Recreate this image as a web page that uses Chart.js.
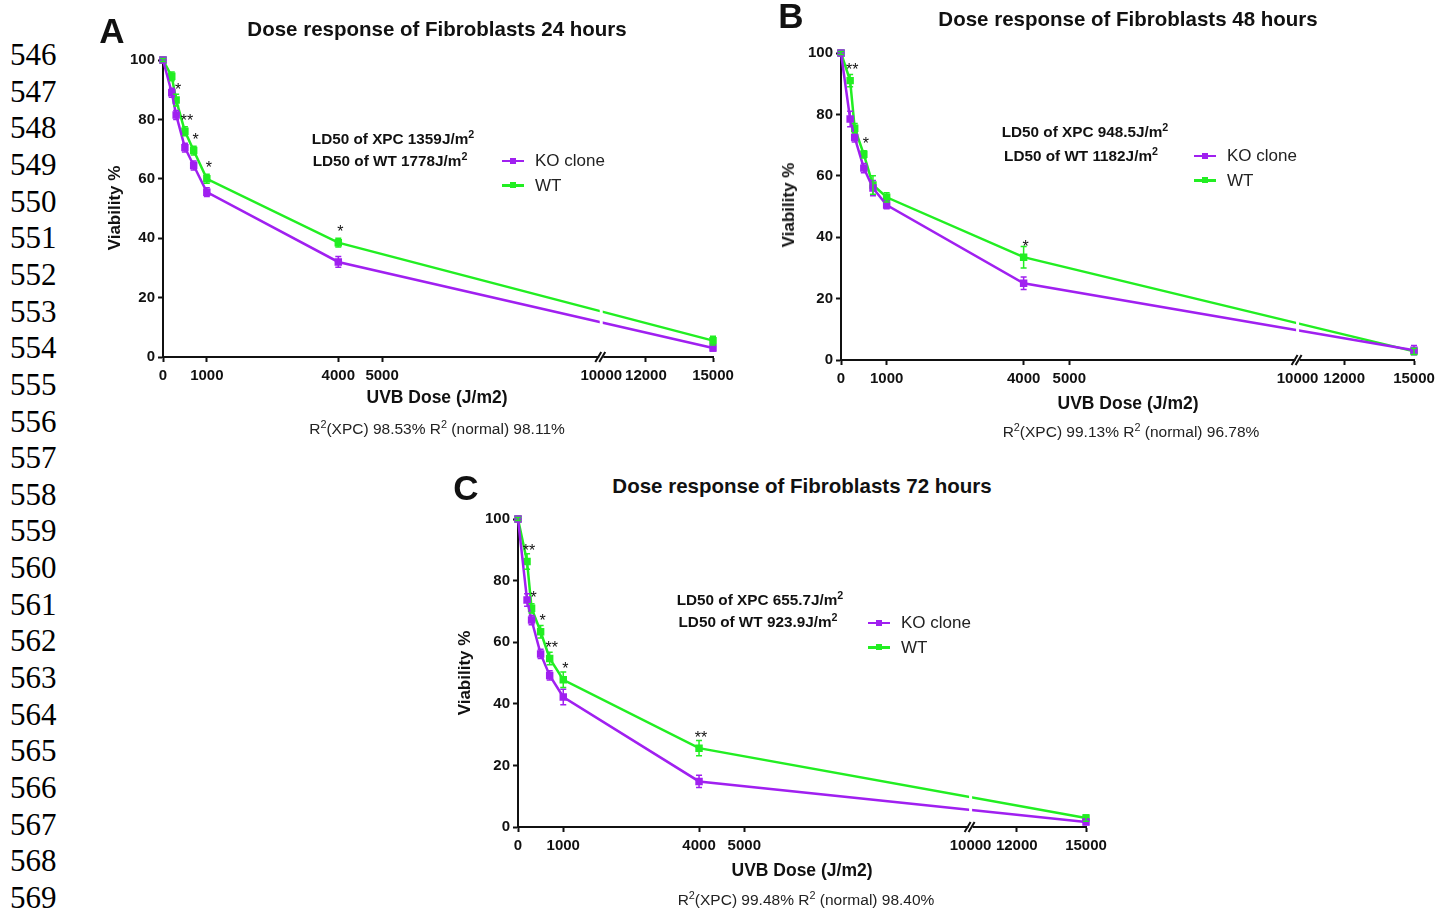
<!DOCTYPE html>
<html>
<head>
<meta charset="utf-8">
<script src="https://cdn.jsdelivr.net/npm/chart.js@4.4.0/dist/chart.umd.min.js"></script>
<style>
  body { margin: 0; width: 1438px; height: 910px; background: #fff; overflow: hidden; position: relative;
         font-family: "Liberation Sans", Arial, sans-serif; color: #111; }
  canvas { position: absolute; }
  .t { position: absolute; white-space: nowrap; transform: translate(-50%, -50%); }
  .letter { font-size: 35px; font-weight: bold; }
  .title { font-size: 20.5px; font-weight: bold; }
  .ytitle { font-size: 17px; font-weight: bold; transform: translate(-50%, -50%) rotate(-90deg); }
  .xtitle { font-size: 17.5px; font-weight: bold; }
  .ld { font-size: 15.3px; font-weight: bold; }
  .r2 { font-size: 15.5px; color: #222; }
  sup { font-size: 0.7em; line-height: 0; vertical-align: 0.55em; }
  .ln { position: absolute; left: 10px; font-family: "Liberation Serif", "Times New Roman", serif; font-size: 31px;
        transform: translateY(-50%); color: #000; }
  .leg { position: absolute; display: flex; align-items: center; transform: translateY(-50%); font-size: 17px; color: #222; }
  .sw { position: relative; width: 22px; height: 2.5px; margin-right: 11px; }
  .sw i { position: absolute; left: 8px; top: -2px; width: 6px; height: 6px; background: inherit; }
</style>
</head>
<body>
<canvas id="chartA" width="640" height="350" style="left:100px;top:40px"></canvas>
<canvas id="chartB" width="663" height="360" style="left:778px;top:33px"></canvas>
<canvas id="chartC" width="658" height="361" style="left:455px;top:499px"></canvas>

<div class="t letter" style="left:112px;top:31px">A</div>
<div class="t title" style="left:437px;top:29px">Dose response of Fibroblasts 24 hours</div>
<div class="t ytitle" style="left:115px;top:208px">Viability %</div>
<div class="t xtitle" style="left:437px;top:397px">UVB Dose (J/m2)</div>
<div class="t r2" style="left:437px;top:429px">R<sup>2</sup>(XPC) 98.53% R<sup>2</sup> (normal) 98.11%</div>
<div class="t ld" style="left:393px;top:139px">LD50 of XPC 1359J/m<sup>2</sup></div>
<div class="t ld" style="left:390px;top:161px">LD50 of WT 1778J/m<sup>2</sup></div>

<div class="t letter" style="left:791px;top:16px">B</div>
<div class="t title" style="left:1128px;top:19px">Dose response of Fibroblasts 48 hours</div>
<div class="t ytitle" style="left:789px;top:205px">Viability %</div>
<div class="t xtitle" style="left:1128px;top:403px">UVB Dose (J/m2)</div>
<div class="t r2" style="left:1131px;top:432px">R<sup>2</sup>(XPC) 99.13% R<sup>2</sup> (normal) 96.78%</div>
<div class="t ld" style="left:1085px;top:132px">LD50 of XPC 948.5J/m<sup>2</sup></div>
<div class="t ld" style="left:1081px;top:156px">LD50 of WT 1182J/m<sup>2</sup></div>

<div class="t letter" style="left:466px;top:488px">C</div>
<div class="t title" style="left:802px;top:486px">Dose response of Fibroblasts 72 hours</div>
<div class="t ytitle" style="left:465px;top:673px">Viability %</div>
<div class="t xtitle" style="left:802px;top:870px">UVB Dose (J/m2)</div>
<div class="t r2" style="left:806px;top:900px">R<sup>2</sup>(XPC) 99.48% R<sup>2</sup> (normal) 98.40%</div>
<div class="t ld" style="left:760px;top:600px">LD50 of XPC 655.7J/m<sup>2</sup></div>
<div class="t ld" style="left:758px;top:622px">LD50 of WT 923.9J/m<sup>2</sup></div>

<script>
// values
const doses = [0, 200, 300, 500, 700, 1000, 4000, 15000];
const xTicks = [0, 1000, 4000, 5000, 10000, 12000, 15000];
const seriesNames = ['KO clone', 'WT'];
const colors = ['#a020f0', '#22ee22'];

// A - 24 hours
const koA = [100, 89, 81.5, 70.5, 64.5, 55.5, 32, 3];
const wtA = [100, 94.5, 86.5, 76, 69.5, 60, 38.5, 5.5];
const koErrA = [0.5, 1.5, 1.5, 1.5, 1.5, 1.5, 1.8, 1];
const wtErrA = [0.5, 1.5, 2, 1.5, 1.5, 1.5, 1.5, 1.5];
const starsA = ['', '', '*', '**', '*', '*', '*', ''];

// B - 48 hours
const koB = [100, 78.5, 72.5, 62.5, 56, 50.5, 25, 3.2];
const wtB = [100, 91, 75.5, 67, 57, 53, 33.5, 2.8];
const koErrB = [0.5, 2.5, 1.5, 1.5, 2.5, 1.2, 2, 1.5];
const wtErrB = [0.5, 2, 1.5, 1.2, 3, 1.5, 3.5, 1];
const starsB = ['', '**', '', '*', '', '', '*', ''];

// C - 72 hours
const koC = [100, 73.7, 67.2, 56.2, 49.2, 42.2, 14.8, 1.6];
const wtC = [100, 86.2, 71, 63.4, 54.7, 47.8, 25.6, 2.9];
const koErrC = [0.5, 2, 1.5, 1.5, 1.5, 2.5, 2, 0.8];
const wtErrC = [0.5, 2.5, 1.5, 2, 2, 2.5, 2.5, 1];
const starsC = ['', '**', '*', '*', '**', '*', '**', ''];

// line numbers down the left margin
for (let n = 546; n <= 569; n++) {
  const d = document.createElement('div');
  d.className = 'ln';
  d.style.top = (55 + (n - 546) * 36.65) + 'px';
  d.textContent = n;
  document.body.appendChild(d);
}

// legends
function addLegend(left, top) {
  seriesNames.forEach((name, i) => {
    const d = document.createElement('div');
    d.className = 'leg';
    d.style.left = left + 'px';
    d.style.top = (top + i * 24.5) + 'px';
    d.innerHTML = '<span class="sw" style="background:' + colors[i] + '"><i></i></span>' + name;
    document.body.appendChild(d);
  });
}
addLegend(502, 161);
addLegend(1194, 156);
addLegend(868, 623);

// x axis with a break at 10000: the part after it is squeezed
const BREAK = 10000, SQUEEZE = 0.51;
const squeeze = v => v <= BREAK ? v : BREAK + (v - BREAK) * SQUEEZE;
const unsqueeze = s => s <= BREAK ? s : BREAK + (s - BREAK) / SQUEEZE;

class BrokenScale extends Chart.LinearScale {
  getPixelForValue(value) {
    const a = squeeze(this.min), b = squeeze(this.max);
    return this.getPixelForDecimal((squeeze(value) - a) / (b - a));
  }
  getValueForPixel(pixel) {
    const a = squeeze(this.min), b = squeeze(this.max);
    return unsqueeze(a + this.getDecimalForPixel(pixel) * (b - a));
  }
}
BrokenScale.id = 'broken';
BrokenScale.defaults = Chart.LinearScale.defaults;
Chart.register(BrokenScale);

const FONT = '"Liberation Sans", Arial, sans-serif';

const decorations = {
  id: 'decorations',
  afterDatasetsDraw(chart, args, opts) {
    const ctx = chart.ctx, y = chart.scales.y, x = chart.scales.x, area = chart.chartArea;
    // small white gap in the lines at the axis break
    const bx = x.getPixelForValue(BREAK);
    ctx.save();
    ctx.fillStyle = '#fff';
    ctx.fillRect(bx - 1.5, area.top, 3, area.bottom - area.top - 4);
    ctx.restore();
    // error bars
    [opts.koErr, opts.wtErr].forEach((errs, i) => {
      const ds = chart.data.datasets[i];
      const meta = chart.getDatasetMeta(i);
      ctx.save();
      ctx.strokeStyle = ds.borderColor;
      ctx.lineWidth = 1.5;
      meta.data.forEach((pt, j) => {
        const v = ds.data[j].y;
        const top = y.getPixelForValue(v + errs[j]);
        const bot = y.getPixelForValue(v - errs[j]);
        ctx.beginPath();
        ctx.moveTo(pt.x, top); ctx.lineTo(pt.x, bot);
        ctx.moveTo(pt.x - 3, top); ctx.lineTo(pt.x + 3, top);
        ctx.moveTo(pt.x - 3, bot); ctx.lineTo(pt.x + 3, bot);
        ctx.stroke();
      });
      ctx.restore();
    });
    // significance stars above WT
    const wtMeta = chart.getDatasetMeta(1);
    ctx.save();
    ctx.fillStyle = '#111';
    ctx.font = '16px ' + FONT;
    ctx.textAlign = 'center';
    ctx.textBaseline = 'middle';
    opts.stars.forEach((s, j) => {
      if (!s) return;
      const pt = wtMeta.data[j];
      ctx.fillText(s, pt.x + 2, pt.y - 10);
    });
    ctx.restore();
  },
  afterDraw(chart) {
    const ctx = chart.ctx, x = chart.scales.x, area = chart.chartArea;
    const bx = x.getPixelForValue(BREAK), by = area.bottom;
    ctx.save();
    ctx.fillStyle = '#fff';
    ctx.fillRect(bx - 2, by - 2, 4, 4);
    ctx.strokeStyle = '#111';
    ctx.lineWidth = 2;
    ctx.beginPath();
    ctx.moveTo(bx - 6, by + 5); ctx.lineTo(bx, by - 5);
    ctx.moveTo(bx - 2, by + 5); ctx.lineTo(bx + 4, by - 5);
    ctx.stroke();
    ctx.restore();
  }
};

function axisStyle() {
  return {
    border: { color: '#111', width: 2 },
    grid: {
      drawOnChartArea: false, tickLength: 5, tickWidth: 2,
      tickColor: c => (c.tick && c.tick.value === BREAK && c.scale.axis === 'x') ? 'rgba(0,0,0,0)' : '#111'
    }
  };
}

function makePanel(id, ko, wt, koErr, wtErr, stars) {
  const series = [ko, wt];
  new Chart(document.getElementById(id), {
    type: 'line',
    data: {
      datasets: series.map((vals, i) => ({
        label: seriesNames[i],
        data: doses.map((d, j) => ({ x: d, y: vals[j] })),
        borderColor: colors[i],
        backgroundColor: colors[i],
        borderWidth: 2.5,
        pointStyle: 'rect',
        pointRadius: 3.5,
        tension: 0,
        clip: false
      }))
    },
    options: {
      responsive: false,
      animation: false,
      layout: { padding: { left: 0, top: 20, right: 27, bottom: 0 } },
      plugins: {
        legend: { display: false },
        tooltip: { enabled: false },
        decorations: { koErr, wtErr, stars }
      },
      scales: {
        x: Object.assign(axisStyle(), {
          type: 'broken', min: 0, max: 15000,
          afterBuildTicks: s => { s.ticks = xTicks.map(v => ({ value: v })); },
          afterFit: s => { s.height = 33; },
          ticks: {
            autoSkip: false, maxRotation: 0, minRotation: 0, padding: 5, color: '#111',
            font: { family: FONT, size: 15, weight: 'bold' },
            callback: v => String(v)
          }
        }),
        y: Object.assign(axisStyle(), {
          min: 0, max: 100,
          afterFit: s => { s.width = 63; },
          ticks: {
            stepSize: 20, padding: 3, color: '#111',
            font: { family: FONT, size: 15, weight: 'bold' }
          }
        })
      }
    },
    plugins: [decorations]
  });
}

makePanel('chartA', koA, wtA, koErrA, wtErrA, starsA);
makePanel('chartB', koB, wtB, koErrB, wtErrB, starsB);
makePanel('chartC', koC, wtC, koErrC, wtErrC, starsC);
</script>
</body>
</html>
